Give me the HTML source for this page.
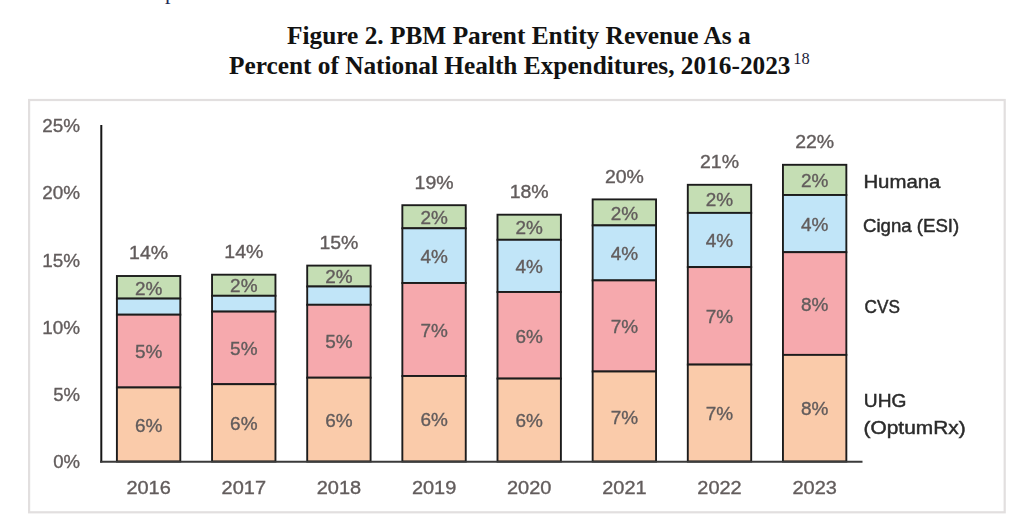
<!DOCTYPE html>
<html lang="en">
<head>
<meta charset="utf-8">
<title>Figure 2. PBM Parent Entity Revenue</title>
<style>
html,body{margin:0;padding:0;background:#fff;}
body{width:1016px;height:526px;position:relative;overflow:hidden;font-family:"Liberation Serif","Times New Roman",serif;color:#111;}
.prev{position:absolute;left:165px;top:-19.5px;font-size:22px;line-height:22px;color:#1f2a55;white-space:nowrap;}
</style>
</head>
<body>
<svg width="1016" height="526" viewBox="0 0 1016 526" style="position:absolute;left:0;top:0">
<defs><filter id="soft" x="-2%" y="-2%" width="104%" height="104%"><feGaussianBlur stdDeviation="0.45"/></filter></defs>
<g filter="url(#soft)">
<rect x="29.1" y="100" width="975.6" height="412.3" fill="#fff" stroke="#e2dfdf" stroke-width="2.2"/>
<g font-family="'Liberation Sans', Arial, sans-serif" font-size="18" fill="#625c5c" stroke="#625c5c" stroke-width="0.35">
<rect x="116.90" y="276.0" width="63.4" height="22.6" fill="#c5deb4" stroke="#1c1c1c" stroke-width="1.9"/>
<rect x="116.90" y="298.6" width="63.4" height="16.1" fill="#c1e5f8" stroke="#1c1c1c" stroke-width="1.9"/>
<rect x="116.90" y="314.7" width="63.4" height="72.8" fill="#f6a9ad" stroke="#1c1c1c" stroke-width="1.9"/>
<rect x="116.90" y="387.5" width="63.4" height="74.0" fill="#facbaa" stroke="#1c1c1c" stroke-width="1.9"/>
<text x="148.6" y="259.4" text-anchor="middle" textLength="39.0" lengthAdjust="spacingAndGlyphs">14%</text>
<text x="148.6" y="294.5" text-anchor="middle" textLength="27.4" lengthAdjust="spacingAndGlyphs">2%</text>
<text x="148.6" y="358.3" text-anchor="middle" textLength="27.4" lengthAdjust="spacingAndGlyphs">5%</text>
<text x="148.6" y="431.7" text-anchor="middle" textLength="27.4" lengthAdjust="spacingAndGlyphs">6%</text>
<text x="148.6" y="493.9" text-anchor="middle" textLength="44.4" lengthAdjust="spacingAndGlyphs">2016</text>
<rect x="212.05" y="274.7" width="63.4" height="21.1" fill="#c5deb4" stroke="#1c1c1c" stroke-width="1.9"/>
<rect x="212.05" y="295.8" width="63.4" height="15.8" fill="#c1e5f8" stroke="#1c1c1c" stroke-width="1.9"/>
<rect x="212.05" y="311.6" width="63.4" height="72.6" fill="#f6a9ad" stroke="#1c1c1c" stroke-width="1.9"/>
<rect x="212.05" y="384.2" width="63.4" height="77.3" fill="#facbaa" stroke="#1c1c1c" stroke-width="1.9"/>
<text x="243.8" y="258.1" text-anchor="middle" textLength="39.0" lengthAdjust="spacingAndGlyphs">14%</text>
<text x="243.8" y="292.4" text-anchor="middle" textLength="27.4" lengthAdjust="spacingAndGlyphs">2%</text>
<text x="243.8" y="355.1" text-anchor="middle" textLength="27.4" lengthAdjust="spacingAndGlyphs">5%</text>
<text x="243.8" y="430.1" text-anchor="middle" textLength="27.4" lengthAdjust="spacingAndGlyphs">6%</text>
<text x="243.8" y="493.9" text-anchor="middle" textLength="44.4" lengthAdjust="spacingAndGlyphs">2017</text>
<rect x="307.20" y="265.6" width="63.4" height="20.9" fill="#c5deb4" stroke="#1c1c1c" stroke-width="1.9"/>
<rect x="307.20" y="286.5" width="63.4" height="18.3" fill="#c1e5f8" stroke="#1c1c1c" stroke-width="1.9"/>
<rect x="307.20" y="304.8" width="63.4" height="72.9" fill="#f6a9ad" stroke="#1c1c1c" stroke-width="1.9"/>
<rect x="307.20" y="377.7" width="63.4" height="83.8" fill="#facbaa" stroke="#1c1c1c" stroke-width="1.9"/>
<text x="338.9" y="249.0" text-anchor="middle" textLength="39.0" lengthAdjust="spacingAndGlyphs">15%</text>
<text x="338.9" y="283.2" text-anchor="middle" textLength="27.4" lengthAdjust="spacingAndGlyphs">2%</text>
<text x="338.9" y="348.4" text-anchor="middle" textLength="27.4" lengthAdjust="spacingAndGlyphs">5%</text>
<text x="338.9" y="426.8" text-anchor="middle" textLength="27.4" lengthAdjust="spacingAndGlyphs">6%</text>
<text x="338.9" y="493.9" text-anchor="middle" textLength="44.4" lengthAdjust="spacingAndGlyphs">2018</text>
<rect x="402.35" y="205.2" width="63.4" height="23.1" fill="#c5deb4" stroke="#1c1c1c" stroke-width="1.9"/>
<rect x="402.35" y="228.3" width="63.4" height="54.7" fill="#c1e5f8" stroke="#1c1c1c" stroke-width="1.9"/>
<rect x="402.35" y="283.0" width="63.4" height="93.0" fill="#f6a9ad" stroke="#1c1c1c" stroke-width="1.9"/>
<rect x="402.35" y="376.0" width="63.4" height="85.5" fill="#facbaa" stroke="#1c1c1c" stroke-width="1.9"/>
<text x="434.1" y="188.6" text-anchor="middle" textLength="39.0" lengthAdjust="spacingAndGlyphs">19%</text>
<text x="434.1" y="223.9" text-anchor="middle" textLength="27.4" lengthAdjust="spacingAndGlyphs">2%</text>
<text x="434.1" y="262.9" text-anchor="middle" textLength="27.4" lengthAdjust="spacingAndGlyphs">4%</text>
<text x="434.1" y="336.7" text-anchor="middle" textLength="27.4" lengthAdjust="spacingAndGlyphs">7%</text>
<text x="434.1" y="425.9" text-anchor="middle" textLength="27.4" lengthAdjust="spacingAndGlyphs">6%</text>
<text x="434.1" y="493.9" text-anchor="middle" textLength="44.4" lengthAdjust="spacingAndGlyphs">2019</text>
<rect x="497.50" y="214.7" width="63.4" height="25.1" fill="#c5deb4" stroke="#1c1c1c" stroke-width="1.9"/>
<rect x="497.50" y="239.8" width="63.4" height="52.2" fill="#c1e5f8" stroke="#1c1c1c" stroke-width="1.9"/>
<rect x="497.50" y="292.0" width="63.4" height="86.6" fill="#f6a9ad" stroke="#1c1c1c" stroke-width="1.9"/>
<rect x="497.50" y="378.6" width="63.4" height="82.9" fill="#facbaa" stroke="#1c1c1c" stroke-width="1.9"/>
<text x="529.2" y="198.1" text-anchor="middle" textLength="39.0" lengthAdjust="spacingAndGlyphs">18%</text>
<text x="529.2" y="234.4" text-anchor="middle" textLength="27.4" lengthAdjust="spacingAndGlyphs">2%</text>
<text x="529.2" y="273.1" text-anchor="middle" textLength="27.4" lengthAdjust="spacingAndGlyphs">4%</text>
<text x="529.2" y="342.5" text-anchor="middle" textLength="27.4" lengthAdjust="spacingAndGlyphs">6%</text>
<text x="529.2" y="427.2" text-anchor="middle" textLength="27.4" lengthAdjust="spacingAndGlyphs">6%</text>
<text x="529.2" y="493.9" text-anchor="middle" textLength="44.4" lengthAdjust="spacingAndGlyphs">2020</text>
<rect x="592.65" y="199.4" width="63.4" height="26.0" fill="#c5deb4" stroke="#1c1c1c" stroke-width="1.9"/>
<rect x="592.65" y="225.4" width="63.4" height="55.0" fill="#c1e5f8" stroke="#1c1c1c" stroke-width="1.9"/>
<rect x="592.65" y="280.4" width="63.4" height="91.1" fill="#f6a9ad" stroke="#1c1c1c" stroke-width="1.9"/>
<rect x="592.65" y="371.5" width="63.4" height="90.0" fill="#facbaa" stroke="#1c1c1c" stroke-width="1.9"/>
<text x="624.4" y="182.8" text-anchor="middle" textLength="39.0" lengthAdjust="spacingAndGlyphs">20%</text>
<text x="624.4" y="219.6" text-anchor="middle" textLength="27.4" lengthAdjust="spacingAndGlyphs">2%</text>
<text x="624.4" y="260.1" text-anchor="middle" textLength="27.4" lengthAdjust="spacingAndGlyphs">4%</text>
<text x="624.4" y="333.1" text-anchor="middle" textLength="27.4" lengthAdjust="spacingAndGlyphs">7%</text>
<text x="624.4" y="423.7" text-anchor="middle" textLength="27.4" lengthAdjust="spacingAndGlyphs">7%</text>
<text x="624.4" y="493.9" text-anchor="middle" textLength="44.4" lengthAdjust="spacingAndGlyphs">2021</text>
<rect x="687.80" y="184.8" width="63.4" height="28.1" fill="#c5deb4" stroke="#1c1c1c" stroke-width="1.9"/>
<rect x="687.80" y="212.9" width="63.4" height="54.2" fill="#c1e5f8" stroke="#1c1c1c" stroke-width="1.9"/>
<rect x="687.80" y="267.1" width="63.4" height="97.5" fill="#f6a9ad" stroke="#1c1c1c" stroke-width="1.9"/>
<rect x="687.80" y="364.6" width="63.4" height="96.9" fill="#facbaa" stroke="#1c1c1c" stroke-width="1.9"/>
<text x="719.5" y="168.2" text-anchor="middle" textLength="39.0" lengthAdjust="spacingAndGlyphs">21%</text>
<text x="719.5" y="206.1" text-anchor="middle" textLength="27.4" lengthAdjust="spacingAndGlyphs">2%</text>
<text x="719.5" y="247.2" text-anchor="middle" textLength="27.4" lengthAdjust="spacingAndGlyphs">4%</text>
<text x="719.5" y="323.1" text-anchor="middle" textLength="27.4" lengthAdjust="spacingAndGlyphs">7%</text>
<text x="719.5" y="420.2" text-anchor="middle" textLength="27.4" lengthAdjust="spacingAndGlyphs">7%</text>
<text x="719.5" y="493.9" text-anchor="middle" textLength="44.4" lengthAdjust="spacingAndGlyphs">2022</text>
<rect x="782.95" y="164.8" width="63.4" height="30.2" fill="#c5deb4" stroke="#1c1c1c" stroke-width="1.9"/>
<rect x="782.95" y="195.0" width="63.4" height="57.2" fill="#c1e5f8" stroke="#1c1c1c" stroke-width="1.9"/>
<rect x="782.95" y="252.2" width="63.4" height="102.7" fill="#f6a9ad" stroke="#1c1c1c" stroke-width="1.9"/>
<rect x="782.95" y="354.9" width="63.4" height="106.6" fill="#facbaa" stroke="#1c1c1c" stroke-width="1.9"/>
<text x="814.7" y="148.2" text-anchor="middle" textLength="39.0" lengthAdjust="spacingAndGlyphs">22%</text>
<text x="814.7" y="187.1" text-anchor="middle" textLength="27.4" lengthAdjust="spacingAndGlyphs">2%</text>
<text x="814.7" y="230.8" text-anchor="middle" textLength="27.4" lengthAdjust="spacingAndGlyphs">4%</text>
<text x="814.7" y="310.7" text-anchor="middle" textLength="27.4" lengthAdjust="spacingAndGlyphs">8%</text>
<text x="814.7" y="415.4" text-anchor="middle" textLength="27.4" lengthAdjust="spacingAndGlyphs">8%</text>
<text x="814.7" y="493.9" text-anchor="middle" textLength="44.4" lengthAdjust="spacingAndGlyphs">2023</text>
<text x="80" y="467.8" text-anchor="end" textLength="26.8" lengthAdjust="spacingAndGlyphs">0%</text>
<text x="80" y="400.7" text-anchor="end" textLength="26.8" lengthAdjust="spacingAndGlyphs">5%</text>
<text x="80" y="333.6" text-anchor="end" textLength="37.8" lengthAdjust="spacingAndGlyphs">10%</text>
<text x="80" y="266.5" text-anchor="end" textLength="37.8" lengthAdjust="spacingAndGlyphs">15%</text>
<text x="80" y="199.4" text-anchor="end" textLength="37.8" lengthAdjust="spacingAndGlyphs">20%</text>
<text x="80" y="132.3" text-anchor="end" textLength="37.8" lengthAdjust="spacingAndGlyphs">25%</text>
</g>
<line x1="101.3" y1="125" x2="101.3" y2="462.5" stroke="#141414" stroke-width="2"/>
<line x1="100" y1="461.7" x2="862.5" y2="461.7" stroke="#3a3a3a" stroke-width="2"/>
<g font-family="'Liberation Sans', Arial, sans-serif" font-size="18" fill="#2b2b2b" stroke="#2b2b2b" stroke-width="0.45">
<text x="863.4" y="187.9" textLength="77.0" lengthAdjust="spacingAndGlyphs">Humana</text>
<text x="863.0" y="232.1" textLength="96.2" lengthAdjust="spacingAndGlyphs">Cigna (ESI)</text>
<text x="864.6" y="313.0" textLength="35.4" lengthAdjust="spacingAndGlyphs">CVS</text>
<text x="863.8" y="407.3" textLength="42.6" lengthAdjust="spacingAndGlyphs">UHG</text>
<text x="863.6" y="434.1" textLength="102.0" lengthAdjust="spacingAndGlyphs">(OptumRx)</text>
</g>
</g>
<g font-family="'Liberation Serif', 'Times New Roman', serif" font-weight="bold" font-size="24.2" fill="#121212">
<text x="287.0" y="44.2" textLength="463.6" lengthAdjust="spacingAndGlyphs">Figure 2. PBM Parent Entity Revenue As a</text>
<text x="229.0" y="74.3" textLength="561.5" lengthAdjust="spacingAndGlyphs">Percent of National Health Expenditures, 2016-2023</text>
<text x="793.2" y="64.4" font-weight="normal" font-size="16" fill="#1c1c38" textLength="16.4" lengthAdjust="spacingAndGlyphs">18</text>
</g>
</svg>
<div class="prev">p</div>
</body>
</html>
